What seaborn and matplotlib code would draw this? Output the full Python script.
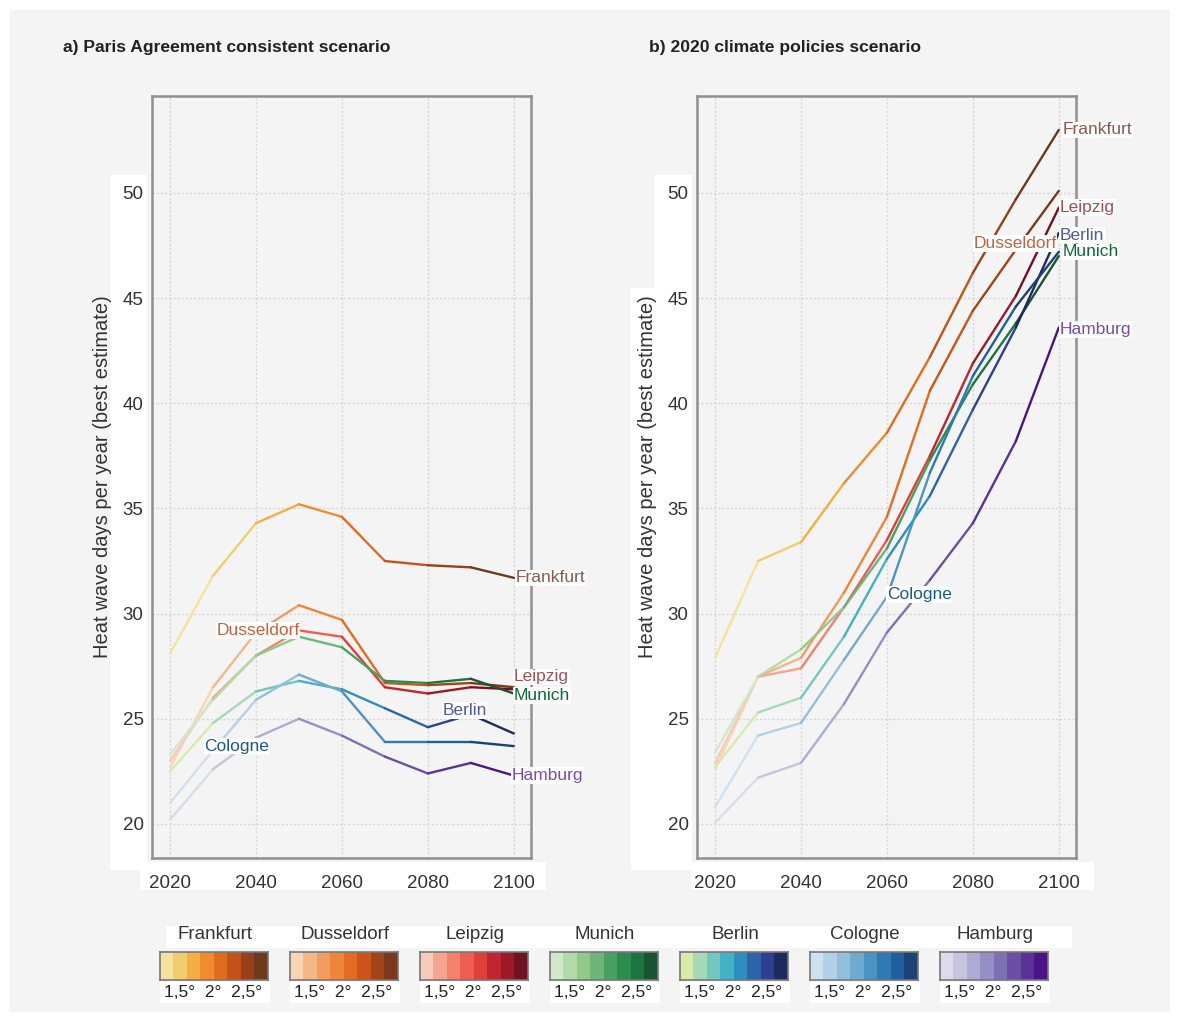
import numpy as np
import pandas as pd
import matplotlib
matplotlib.use("Agg")
import matplotlib.pyplot as plt
from matplotlib.patches import Rectangle
from matplotlib.colors import ListedColormap
import seaborn as sns

years = [2020, 2030, 2040, 2050, 2060, 2070, 2080, 2090, 2100]
cities = ["Frankfurt", "Dusseldorf", "Leipzig", "Munich", "Berlin", "Cologne", "Hamburg"]

# panel a: Paris Agreement consistent scenario
paris = {
    "Frankfurt":  [28.1, 31.8, 34.3, 35.2, 34.6, 32.5, 32.3, 32.2, 31.7],
    "Dusseldorf": [22.7, 26.5, 29.1, 30.4, 29.7, 26.7, 26.6, 26.7, 26.5],
    "Leipzig":    [23.0, 26.0, 28.0, 29.2, 28.9, 26.5, 26.2, 26.5, 26.4],
    "Munich":     [23.3, 25.9, 28.0, 28.9, 28.4, 26.8, 26.7, 26.9, 26.2],
    "Berlin":     [22.5, 24.8, 26.3, 26.8, 26.4, 25.5, 24.6, 25.2, 24.3],
    "Cologne":    [21.0, 23.5, 25.9, 27.1, 26.3, 23.9, 23.9, 23.9, 23.7],
    "Hamburg":    [20.2, 22.6, 24.1, 25.0, 24.2, 23.2, 22.4, 22.9, 22.3],
}
# panel b: 2020 climate policies scenario
policies = {
    "Frankfurt":  [27.9, 32.5, 33.4, 36.2, 38.6, 42.2, 46.2, 49.7, 53.0],
    "Dusseldorf": [22.6, 27.0, 27.9, 31.0, 34.6, 40.6, 44.4, 47.3, 50.1],
    "Leipzig":    [22.9, 27.0, 27.4, 30.3, 33.5, 37.5, 41.9, 45.1, 49.3],
    "Munich":     [23.4, 27.0, 28.3, 30.3, 33.1, 37.3, 40.9, 43.8, 47.0],
    "Berlin":     [22.7, 25.3, 26.0, 28.9, 32.6, 35.6, 39.7, 43.6, 48.1],
    "Cologne":    [20.8, 24.2, 24.8, 27.8, 30.8, 36.7, 41.3, 44.6, 47.2],
    "Hamburg":    [20.05, 22.2, 22.9, 25.7, 29.1, 31.6, 34.3, 38.2, 43.6],
}

palettes = {
    "Frankfurt":  ["#f5e29c", "#f2cd70", "#f5ad45", "#f08c30", "#e06c20", "#c4521a", "#9a3f1a", "#6e3a1e"],
    "Dusseldorf": ["#f7d5b5", "#f4b888", "#f29c5f", "#ee853c", "#e46b23", "#cb541a", "#a2441a", "#7c371c"],
    "Leipzig":    ["#f6cbbb", "#f3a590", "#f2826c", "#ec5e52", "#de3f3a", "#c0262f", "#9c1a27", "#6f1322"],
    "Munich":     ["#cfe9c8", "#b2dbaa", "#90c98a", "#6fb57a", "#48a062", "#2c8b4f", "#1c7440", "#1a5432"],
    "Berlin":     ["#d7ebaa", "#a5dab8", "#74c7bd", "#45b1c4", "#2f8dbf", "#2f63a8", "#2e3f92", "#1d2a5c"],
    "Cologne":    ["#cfe0ef", "#b2d1e6", "#92bfdb", "#6faacf", "#4a93c3", "#2f79b5", "#1f5f9e", "#1a4274"],
    "Hamburg":    ["#dcdbea", "#c6c5df", "#adabd2", "#9590c4", "#7e71b3", "#6a4fa3", "#5a3195", "#4a1487"],
}
label_colors = {
    "Frankfurt": "#8c5a4c", "Dusseldorf": "#c0643c", "Leipzig": "#9c5358",
    "Munich": "#0a6b3a", "Berlin": "#4f5d98", "Cologne": "#1a5a86", "Hamburg": "#7a48b0",
}
# label anchors (x, y, ha) per panel
labels_a = {
    "Frankfurt": (2100.5, 31.7, "left"), "Dusseldorf": (2040.5, 29.2, "center"),
    "Leipzig": (2100, 27.0, "left"), "Munich": (2100, 26.1, "left"),
    "Berlin": (2088.5, 25.4, "center"), "Cologne": (2035.5, 23.7, "center"),
    "Hamburg": (2099.5, 22.3, "left"),
}
labels_b = {
    "Frankfurt": (2101, 53.0, "left"), "Dusseldorf": (2099.5, 47.6, "right"),
    "Leipzig": (2100.3, 49.3, "left"), "Berlin": (2100.3, 48.0, "left"),
    "Munich": (2100.8, 47.2, "left"), "Hamburg": (2100.3, 43.5, "left"),
    "Cologne": (2067.5, 30.9, "center"),
}
legend_ticks = "1,5°  2°  2,5°"

sns.set_style("white")
plt.rcParams["font.family"] = ["Liberation Sans Narrow", "Liberation Sans", "DejaVu Sans"]

W, H = 1180, 1021
fig = plt.figure(figsize=(W / 100, H / 100), dpi=100, facecolor="white")
BG = "#f4f4f4"


def px_rect(x0, y0, x1, y1, color, z=0):
    fig.patches.append(Rectangle((x0 / W, 1 - y1 / H), (x1 - x0) / W, (y1 - y0) / H,
                                 transform=fig.transFigure, color=color, zorder=z, lw=0))


px_rect(10, 10, 1170, 1012, BG, z=-10)
# white blocks behind tick labels, as in the source graphic
px_rect(110, 175, 147, 870, "white", z=-5)
px_rect(140, 862, 546, 890, "white", z=-5)
px_rect(655, 175, 692, 870, "white", z=-5)
px_rect(631, 288, 656, 870, "white", z=-5)
px_rect(691, 862, 1094, 890, "white", z=-5)


def draw_panel(left_px, data, labels, title, title_x):
    ax = fig.add_axes([left_px / W, 1 - 858 / H, 379 / W, 762 / H])
    ax.set_facecolor(BG)
    for c in cities:
        rows = []
        vals = data[c]
        for i in range(len(years) - 1):
            rows.append((years[i], vals[i], i))
            rows.append((years[i + 1], vals[i + 1], i))
        df = pd.DataFrame(rows, columns=["year", "days", "seg"])
        pal = {i: palettes[c][i] for i in range(8)}
        sns.lineplot(data=df, x="year", y="days", hue="seg", palette=pal, ax=ax,
                     legend=False, estimator=None, sort=False, lw=1.7,
                     solid_capstyle="round")
    for c in cities:
        x, y, ha = labels[c]
        ax.text(x, y, c, color=label_colors[c], fontsize=12.5, ha=ha, va="center",
                bbox=dict(facecolor="white", edgecolor="none", pad=0.5), zorder=5)
    ax.set_xlim(2015.8, 2104)
    ax.set_ylim(18.38, 54.61)
    ax.set_xticks([2020, 2040, 2060, 2080, 2100])
    ax.set_yticks([20, 25, 30, 35, 40, 45, 50])
    ax.grid(True, color="#d6d6d6", linestyle=(0, (1.5, 1.5)), lw=1.0)
    for s in ax.spines.values():
        s.set_color("#8f8f8f")
        s.set_linewidth(1.8)
    ax.tick_params(axis="both", labelsize=13.5, colors="#8f8f8f", labelcolor="#333333",
                   length=3, width=1.2, direction="out", pad=3)
    ax.tick_params(axis="x", pad=9)
    ax.set_xlabel("")
    ax.set_ylabel("Heat wave days per year (best estimate)", fontsize=14.5,
                  color="#333333", labelpad=8)
    fig.text(title_x / W, 1 - 47 / H, title, fontsize=12.6, fontweight="bold",
             color="#222222", va="center", ha="left")
    return ax


ax_a = draw_panel(152, paris, labels_a, "a) Paris Agreement consistent scenario", 63)
ax_b = draw_panel(697, policies, labels_b, "b) 2020 climate policies scenario", 649)

# colour legends
px_rect(166, 926, 1072, 948, "white", z=-5)
for k, c in enumerate(cities):
    x0 = 160 + k * 130
    cax = fig.add_axes([x0 / W, 1 - 980 / H, 108 / W, 28 / H])
    cax.imshow(np.arange(8)[None, :], cmap=ListedColormap(palettes[c]), aspect="auto")
    cax.set_xticks([])
    cax.set_yticks([])
    for s in cax.spines.values():
        s.set_color("#777777")
        s.set_linewidth(1.2)
    fig.text((x0 + 55) / W, 1 - 934 / H, c, fontsize=13.5, color="#333333",
             ha="center", va="center")
    px_rect(x0, 982, x0 + 110, 1003, "white", z=-5)
    fig.text((x0 + 53) / W, 1 - 992 / H, legend_ticks, fontsize=12.5,
             color="#222222", ha="center", va="center")

fig.savefig("out.png", dpi=100, facecolor="white")
